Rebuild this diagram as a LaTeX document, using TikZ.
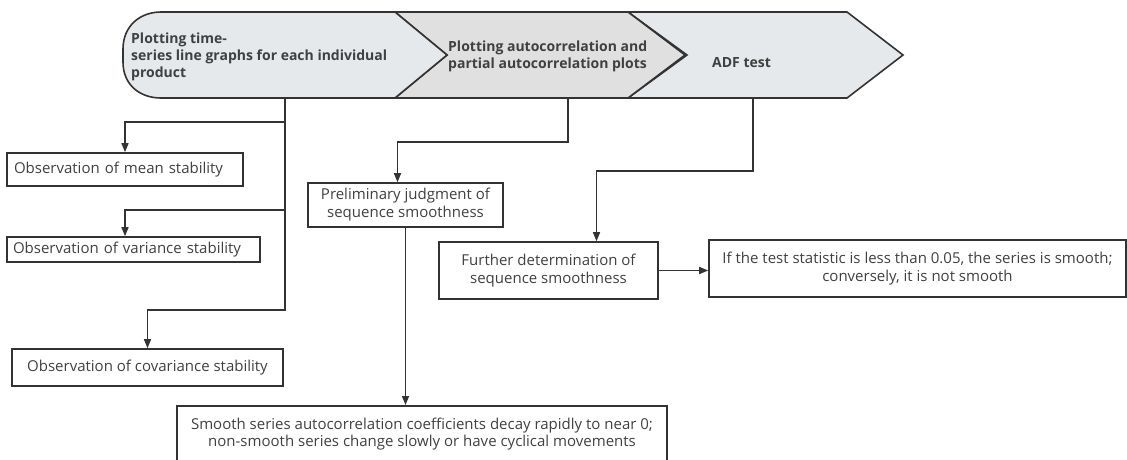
\documentclass[tikz,border=0pt]{standalone}
\usepackage{fontspec}
\setmainfont{Open Sans}
\usetikzlibrary{arrows.meta}
\colorlet{lineGray}{black!80}
\colorlet{textGray}{black!75}
\definecolor{stepFill}{HTML}{E6E9EC}
\definecolor{midFill}{HTML}{E0E0E0}

\begin{document}
\begin{tikzpicture}[x=1pt, y=-1pt,
  box/.style={draw=lineGray, line width=1.6pt, text=textGray, inner sep=0pt,
    align=center, font=\fontsize{15}{18}\selectfont},
  obsbox/.style={box, align=left, inner xsep=7pt},
  head/.style={text=textGray, inner sep=0pt, anchor=west, align=left,
    font=\fontsize{14}{17}\selectfont\bfseries},
  stepshape/.style={draw=lineGray, line width=1.6pt, line join=miter},
  link/.style={draw=lineGray, line width=1.4pt, -{Triangle[length=9pt,width=7pt]}},
]
  \clip (0,0) rectangle (1127,459);

  \draw[stepshape, fill=stepFill] (628,12) -- (847,12) -- (903,55) -- (847,98)
    -- (628,98) -- (687,55) -- cycle;
  \draw[stepshape, fill=midFill] (395,12) -- (628,12) -- (685,55) -- (628,98)
    -- (395,98) -- (447,55) -- cycle;
  \draw[stepshape, fill=stepFill] (395,12) -- (447,55) -- (395,98) -- (161,98)
    .. controls (140,98) and (123,85) .. (123,62) -- (123,49)
    .. controls (123,26) and (140,12) .. (161,12) -- cycle;

  \node[head] (plot) at (131,57) {Plotting time-\\series line graphs for each individual\\product};
  \node[head] (acf) at (448,56) {Plotting autocorrelation and\\partial autocorrelation plots};
  \node[head] (adf) at (712,63) {ADF test};

  \coordinate (plotB) at (285,98);
  \coordinate (acfB) at (568,98);
  \coordinate (adfB) at (753,98);

  \node[obsbox, text width=222pt, minimum height=33pt] (mean) at (125,169.5)
    {Observation of mean stability};
  \node[obsbox, text width=241pt, inner xsep=6pt, minimum height=25pt] (var) at (133.5,249.5)
    {Observation of variance stability};
  \node[box, minimum width=271pt, minimum height=37pt] (cov) at (147.5,367.5)
    {Observation of covariance stability};

  \node[box, minimum width=195pt, minimum height=44pt] (prelim) at (405.5,205)
    {Preliminary judgment of\\sequence smoothness};
  \node[box, anchor=north, minimum width=490pt, inner ysep=12pt, text depth=40pt,
    font=\fontsize{15}{17}\selectfont] (decay) at (422,405)
    {Smooth series autocorrelation coefficients decay rapidly to near 0;\\
     non-smooth series change slowly or have cyclical movements};

  \node[box, minimum width=219pt, minimum height=57pt] (further) at (548.5,270.5)
    {Further determination of\\sequence smoothness};
  \node[box, minimum width=417pt, minimum height=57pt] (result) at (917.5,268.5)
    {If the test statistic is less than 0.05, the series is smooth;\\
     conversely, it is not smooth};

  \draw[link] (plotB) -- (285,122) -| (mean.north);
  \draw[link] (plotB) -- (285,210) -| (mean.north |- var.north);
  \draw[link] (plotB) -- (285,310) -| (cov.north);
  \draw[link] (acfB) -- (568,142) -| ([xshift=-8pt]prelim.north);
  \draw[link] (prelim.south) -- (prelim.south |- decay.north);
  \draw[link] (adfB) -- (753,171) -| ([xshift=48pt]further.north);
  \draw[link] (further.east) -- (further.east -| result.west);
\end{tikzpicture}
\end{document}
